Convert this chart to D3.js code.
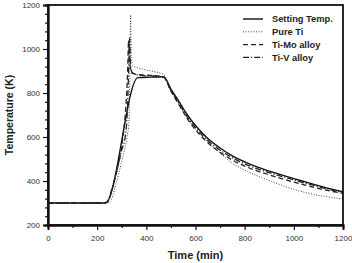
<!DOCTYPE html>
<html>
<head>
<meta charset="utf-8">
<script src="https://cdn.jsdelivr.net/npm/d3@7"></script>
<style>
body { margin: 0; background: #fff; }
svg { display: block; font-family: Arial, "Liberation Sans", sans-serif; }
</style>
</head>
<body>
<div id="chartDiv"></div>
<script>
// series data: [time (min), temperature (K)]
var settingTemp = [[0,300],[234,300],[366,870],[420,872],[470,874],[500,818],[530,766],[560,712],[600,652],[650,593],[700,550],[750,514],[800,487],[850,464],[900,445],[950,428],[1000,411],[1050,395],[1100,379],[1150,364],[1200,351]];
var pureTi = [[0,300],[240,300],[255,310],[275,380],[300,490],[320,590],[330,680],[333,900],[336,1155],[339,960],[345,925],[380,910],[420,900],[470,884],[500,812],[530,752],[560,697],[600,636],[650,578],[700,527],[750,480],[800,450],[850,424],[900,402],[950,381],[1000,362],[1050,347],[1100,335],[1150,326],[1200,318]];
var tiMo = [[0,300],[230,300],[245,310],[265,380],[285,470],[300,560],[310,650],[318,760],[324,900],[328,1040],[333,930],[342,890],[380,882],[420,880],[470,872],[500,808],[530,752],[560,695],[600,633],[650,574],[700,530],[750,495],[800,468],[850,446],[900,428],[950,411],[1000,395],[1050,380],[1100,366],[1150,354],[1200,344]];
var tiV = [[0,300],[225,300],[240,305],[260,365],[280,450],[300,540],[315,610],[322,700],[328,900],[332,1050],[336,920],[345,890],[380,880],[420,878],[470,872],[500,812],[530,760],[560,703],[600,643],[650,584],[700,540],[750,505],[800,478],[850,456],[900,438],[950,421],[1000,405],[1050,389],[1100,374],[1150,360],[1200,347]];

var seriesNames = ["Setting Temp.", "Pure Ti", "Ti-Mo alloy", "Ti-V alloy"];
var seriesData = [settingTemp, pureTi, tiMo, tiV];
var xTicks = [0, 200, 400, 600, 800, 1000, 1200];
var yTicks = [200, 400, 600, 800, 1000, 1200];

var width = 352, height = 263;
var margin = {left: 48, right: 9, top: 5, bottom: 38};

var x = d3.scaleLinear().domain([0, 1200]).range([margin.left, width - margin.right]);
var y = d3.scaleLinear().domain([200, 1200]).range([height - margin.bottom, margin.top]);

var svg = d3.select("#chartDiv").append("svg")
    .attr("width", width)
    .attr("height", height);

var styles = [
    {dash: null, w: 1.4, c: "#111"},
    {dash: "1,1.6", w: 1, c: "#444"},
    {dash: "5,3", w: 1.3, c: "#222"},
    {dash: "6,2,1.2,2", w: 1.3, c: "#222"}
];

var line = d3.line()
    .x(function (d) { return x(d[0]); })
    .y(function (d) { return y(d[1]); })
    .curve(d3.curveMonotoneX);

// Draw the curves.
svg.append("g").selectAll("path")
    .data(seriesData)
    .enter().append("path")
    .attr("d", line)
    .attr("fill", "none")
    .attr("stroke", function (d, i) { return styles[i].c; })
    .attr("stroke-width", function (d, i) { return styles[i].w; })
    .attr("stroke-dasharray", function (d, i) { return styles[i].dash; });

// Frame
svg.append("rect")
    .attr("x", x(0)).attr("y", y(1200))
    .attr("width", x(1200) - x(0)).attr("height", y(200) - y(1200))
    .attr("fill", "none").attr("stroke", "#111").attr("stroke-width", 1.8);

// Axes
var fmt = d3.format("d");
svg.append("g")
    .attr("transform", "translate(0," + y(200) + ")")
    .call(d3.axisBottom(x).tickValues(xTicks).tickSize(5).tickPadding(5).tickFormat(fmt));
svg.append("g")
    .attr("transform", "translate(0," + y(200) + ")")
    .call(d3.axisBottom(x).tickValues(d3.range(100, 1200, 200)).tickSize(3).tickFormat(""));
svg.append("g")
    .attr("transform", "translate(" + x(0) + ",0)")
    .call(d3.axisLeft(y).tickValues(yTicks).tickSize(5).tickPadding(3).tickFormat(fmt));
svg.append("g")
    .attr("transform", "translate(" + x(0) + ",0)")
    .call(d3.axisLeft(y).tickValues(d3.range(240, 1200, 40).filter(function (v) { return v % 200 != 0; })).tickSize(3).tickFormat(""));

svg.selectAll(".domain").attr("stroke", "#111").attr("stroke-width", 1.8);
svg.selectAll(".tick line").attr("stroke", "#111").attr("stroke-width", 1.2);
svg.selectAll(".tick text").attr("font-size", 8).attr("fill", "#333").attr("font-family", "Arial, sans-serif");

// Axis titles
svg.append("text")
    .attr("x", (x(0) + x(1200)) / 2).attr("y", 259)
    .attr("text-anchor", "middle")
    .attr("font-size", 11).attr("font-weight", "bold").attr("fill", "#222")
    .text("Time (min)");
svg.append("text")
    .attr("transform", "translate(13," + ((y(200) + y(1200)) / 2) + ") rotate(-90)")
    .attr("text-anchor", "middle")
    .attr("font-size", 10.5).attr("font-weight", "bold").attr("fill", "#222")
    .text("Temperature (K)");

// Legend
var legend = svg.append("g").selectAll("g")
    .data(seriesNames)
    .enter().append("g")
    .attr("transform", function (d, i) { return "translate(243," + (19 + i * 12.8) + ")"; });
legend.append("line")
    .attr("x1", 0).attr("x2", 20)
    .attr("stroke", function (d, i) { return styles[i].c; })
    .attr("stroke-width", function (d, i) { return styles[i].w; })
    .attr("stroke-dasharray", function (d, i) { return styles[i].dash; });
legend.append("text")
    .attr("x", 29).attr("dy", "0.35em")
    .attr("font-size", 9.3).attr("font-weight", "bold").attr("fill", "#222")
    .text(function (d) { return d; });
</script>
</body>
</html>
